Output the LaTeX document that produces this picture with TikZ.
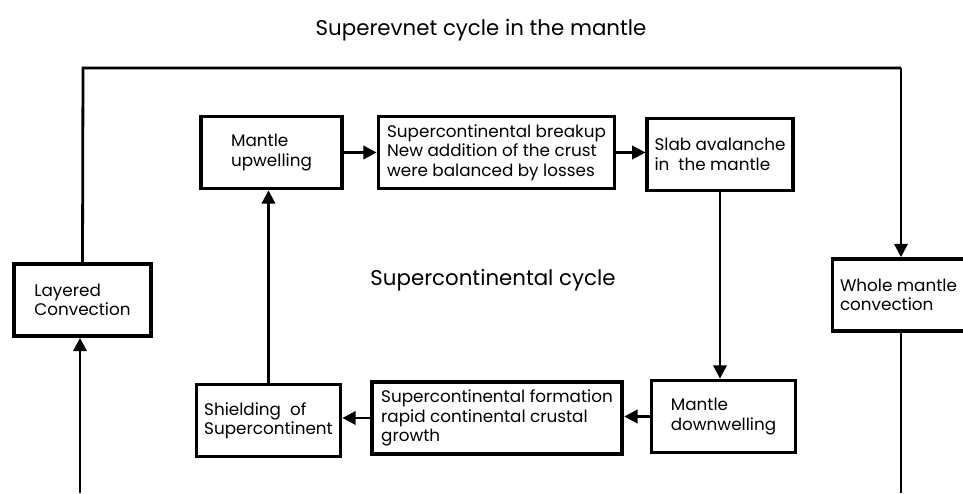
\documentclass[tikz,border=0pt]{standalone}
\usepackage{fontspec}
\setmainfont{Poppins}
\usetikzlibrary{arrows.meta, positioning}

\begin{document}
\begin{tikzpicture}[
    x=0.75pt, y=-0.75pt,
    base/.style={draw, line width=2.8pt, align=left, font=\fontsize{12.6}{14.5}\selectfont, inner sep=2pt},
    stage/.style={base, minimum height=54pt},
    label_node/.style={font=\fontsize{16}{19}\selectfont},
    link/.style={line width=2.1pt, -{Triangle[length=10pt, width=10pt]}},
    plain/.style={line width=2.1pt}
]
    \useasboundingbox (0,0) rectangle (963,493);

    \node[label_node] (title) at (481,30) {Superevnet cycle in the mantle};
    \node[label_node] (cycle) at (493,280) {Supercontinental cycle};

    % outer loop
    \node[stage, minimum width=103pt] (layered) at (82.5,300) {Layered\\Convection};
    \node[stage, minimum width=99pt] (whole) at (898.5,295) {Whole mantle\\convection};

    % inner loop, upper row
    \node[stage, minimum width=106pt] (upwell) at (271.5,152.5) {Mantle\\upwelling};
    \node[stage, minimum width=177pt] (breakup) at (496.5,152.5) {Supercontinental breakup\\New addition of the crust\\were balanced by losses};
    \node[stage, minimum width=109pt] (slab) at (720,154.5) {Slab avalanche\\in\ \ the mantle};

    % inner loop, lower row
    \node[stage, minimum width=108pt] (downw) at (723.5,416.5) {Mantle\\downwelling};
    \node[stage, minimum width=188pt] (formation) at (497,418) {Supercontinental formation\\rapid continental crustal\\growth};
    \node[stage, minimum width=108pt] (shield) at (268.5,420.5) {Shielding\ \ of\\Supercontinent};

    \coordinate (tl) at (83,68);
    \coordinate (tr) at (901,68);
    \coordinate (bl) at (80,493);
    \coordinate (br) at (901,493);

    \draw[plain] (layered.north) -- (tl) -- (tr);
    \draw[link] (tr) -- (tr |- whole.north);
    \draw[link] (bl) -- (bl |- layered.south);
    \draw[plain] (whole.south -| br) -- (br);

    \draw[link] (upwell) -- (breakup);
    \draw[link] (breakup.east) -- (breakup.east -| slab.west);
    \draw[link] (slab.south) -- (slab.south |- downw.north);
    \draw[link] (downw.west) -- (downw.west -| formation.east);
    \draw[link] (formation.west) -- (formation.west -| shield.east);
    \draw[link] (shield.north) -- (shield.north |- upwell.south);
\end{tikzpicture}
\end{document}
